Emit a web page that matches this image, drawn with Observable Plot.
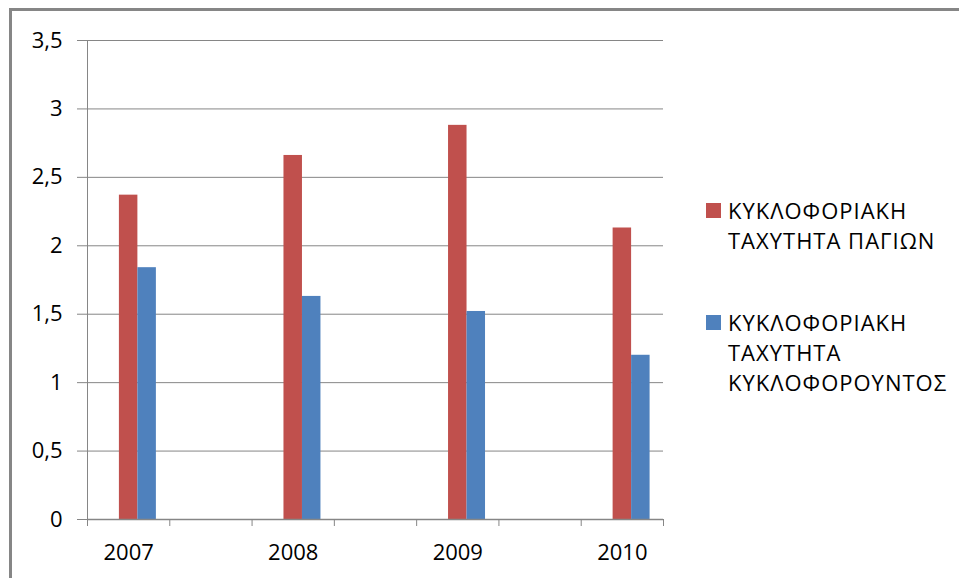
<!DOCTYPE html>
<html>
<head>
<meta charset="utf-8">
<script src="https://cdn.jsdelivr.net/npm/d3@7"></script>
<script src="https://cdn.jsdelivr.net/npm/@observablehq/plot@0.6"></script>
<style>
  html, body { margin: 0; padding: 0; background: #fff; }
  #wrap { position: relative; width: 959px; height: 578px; overflow: hidden; font-family: "Open Sans", sans-serif; }
  #wrap svg { position: absolute; left: 0; top: 0; background: transparent !important; }
  #border { position: absolute; z-index: 5; left: 9px; top: 8px; width: 960px; height: 580px; border-left: 3px solid #868686; border-top: 3px solid #868686; pointer-events: none; }
  .lg { position: absolute; left: 706px; font-size: 22px; line-height: 30px; color: #000; letter-spacing: 1px; }
  .lg .sw { position: absolute; left: 0; top: 8.5px; width: 15px; height: 15px; }
  .lg .tx { margin-left: 22px; white-space: nowrap; }
</style>
</head>
<body>
<div id="wrap"></div>
<script>
// ---- data ----
const categories = ["2007", "", "2008", "", "2009", "", "2010"];
const years = ["2007", "2008", "2009", "2010"];
const seriesKeys = ["s0", "s1", "s2"];
const seriesNames = ["", "ΚΥΚΛΟΦΟΡΙΑΚΗ ΤΑΧΥΤΗΤΑ ΠΑΓΙΩΝ", "ΚΥΚΛΟΦΟΡΙΑΚΗ ΤΑΧΥΤΗΤΑ ΚΥΚΛΟΦΟΡΟΥΝΤΟΣ"];
const legendLines = [[], ["ΚΥΚΛΟΦΟΡΙΑΚΗ", "ΤΑΧΥΤΗΤΑ ΠΑΓΙΩΝ"], ["ΚΥΚΛΟΦΟΡΙΑΚΗ", "ΤΑΧΥΤΗΤΑ", "ΚΥΚΛΟΦΟΡΟΥΝΤΟΣ"]];
const fixedAssetTurnover = [2.37, 2.66, 2.88, 2.13];
const workingCapitalTurnover = [1.84, 1.63, 1.52, 1.20];
const yTicks = [0, 0.5, 1, 1.5, 2, 2.5, 3, 3.5];
const seriesColors = ["#9BBB59", "#C0504D", "#4F81BD"];

// within-category series band (cluster layout, like a grouped column chart)
const inner = d3.scaleBand().domain(seriesKeys).range([0, 1]).paddingInner(0).paddingOuter(0.725);

// ---- table ----
const rows = [];
years.forEach((yr, i) => {
  const c = categories.indexOf(yr);
  rows.push({cat: c, series: "s1", value: fixedAssetTurnover[i]});
  rows.push({cat: c, series: "s2", value: workingCapitalTurnover[i]});
});
const boundaries = d3.range(categories.length + 1);
const labelPos = categories.map((c, i) => ({c, v: i + 0.5})).filter(d => d.c !== "").map(d => d.v);

const W = 959, H = 578;
const grey = "#868686";
const fmt = d => String(d).replace(".", ",");

const chart = Plot.plot({
  width: W,
  height: H,
  marginTop: 40,
  marginBottom: 59,
  marginLeft: 87,
  marginRight: 296,
  style: {fontFamily: "'Open Sans', sans-serif", fontSize: "22px", color: "#000", background: "transparent", overflow: "visible"},
  x: {domain: [0, categories.length]},
  y: {domain: [0, 3.5]},
  color: {domain: seriesKeys, range: seriesColors},
  marks: [
    Plot.gridY(yTicks, {stroke: grey, strokeOpacity: 1, strokeWidth: 1}),
    Plot.rectY(rows, {
      x1: d => d.cat + inner(d.series),
      x2: d => d.cat + inner(d.series) + inner.bandwidth(),
      y1: 0, y2: "value", fill: "series", inset: 0
    }),
    Plot.ruleX([0], {stroke: grey, strokeWidth: 1}),
    Plot.ruleY([0], {stroke: grey, strokeWidth: 1.5}),
    Plot.axisX(boundaries, {tickSize: 7, tickFormat: () => "", stroke: grey, label: null}),
    Plot.axisX(labelPos, {tickSize: 0, tickPadding: 25, tickFormat: v => categories[Math.floor(v)], fontSize: 22, fill: "#000", label: null}),
    Plot.axisY(yTicks, {tickSize: 10, tickPadding: 15, tickFormat: fmt, stroke: grey, fill: "#000", fontSize: 22, label: null})
  ]
});

const wrap = document.getElementById("wrap");
wrap.appendChild(chart);
const border = document.createElement("div");
border.id = "border";
wrap.appendChild(border);

// ---- legend ----
const legendTops = [null, 194.5, 306.5];
[1, 2].forEach(s => {
  const el = document.createElement("div");
  el.className = "lg";
  el.style.top = legendTops[s] + "px";
  const sw = document.createElement("div");
  sw.className = "sw";
  sw.style.background = seriesColors[s];
  el.appendChild(sw);
  legendLines[s].forEach(line => {
    const t = document.createElement("div");
    t.className = "tx";
    t.textContent = line;
    el.appendChild(t);
  });
  el.title = seriesNames[s];
  wrap.appendChild(el);
});
</script>
</body>
</html>
